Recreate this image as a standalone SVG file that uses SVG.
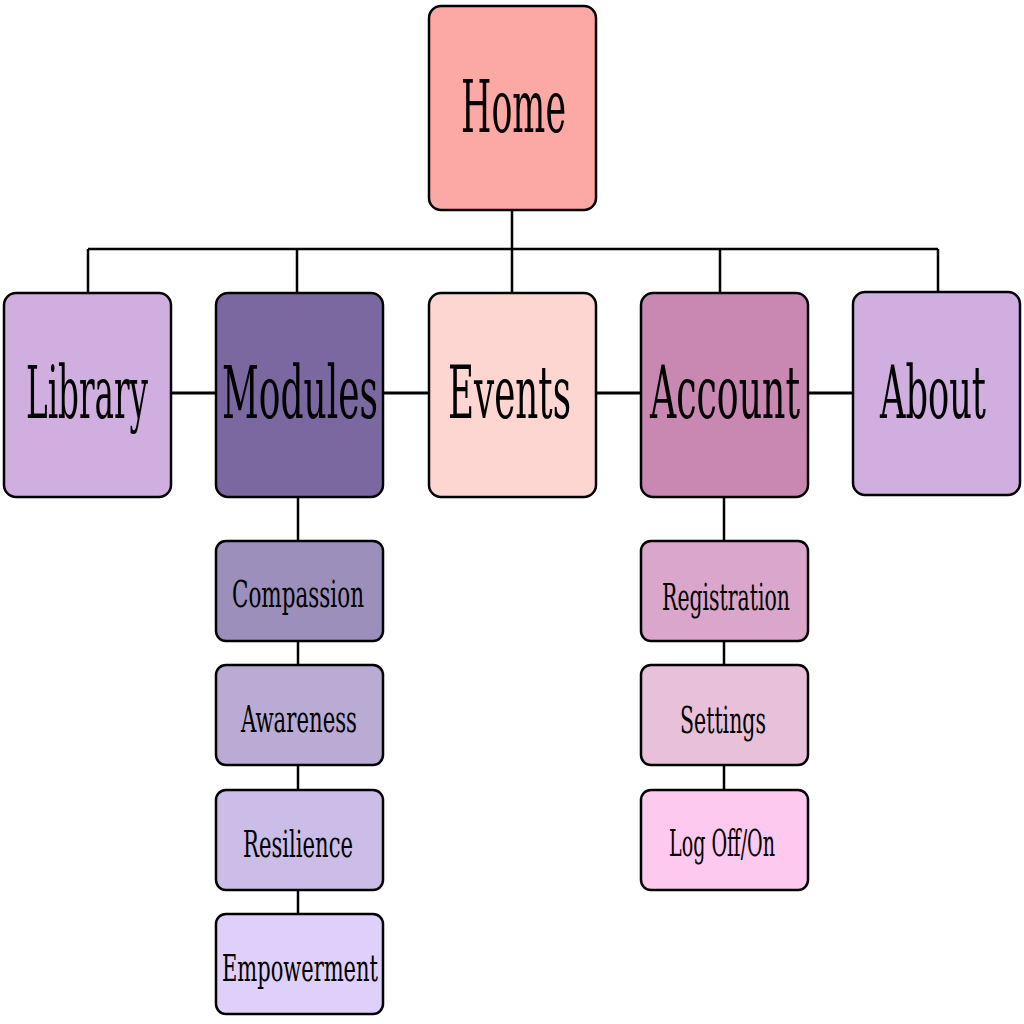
<svg xmlns="http://www.w3.org/2000/svg" width="1024" height="1024" viewBox="0 0 1024 1024">
<style>
.box{stroke:#000;stroke-width:2.5}
.t{font-family:"DejaVu Serif","Liberation Serif",serif;fill:#000}
.big{font-size:72px}
.sm{font-size:38px}
.c{stroke:#000;stroke-width:2.5;fill:none}
.h{stroke:#000;stroke-width:3.2;fill:none}
</style>
<rect width="1024" height="1024" fill="#fff"/>
<g id="connectors">
<path class="c" d="M512 210V249M88 249H938M88 249V293M297 249V293M512 249V293M720 249V293M938 249V292"/>
<path class="h" d="M171 393H216M383 393H429M596 393H641M808 393H853"/>
<path class="c" d="M298 497V541M298 641V665M298 765V790M298 890V914"/>
<path class="c" d="M724 497V541M724 641V665M724 765V790"/>
</g>
<g id="home"><rect class="box" x="429" y="6" width="167" height="204" rx="12" fill="#fca8a4"/><text class="t big" x="461" y="132" textLength="105" lengthAdjust="spacingAndGlyphs">Home</text></g>
<g id="library"><rect class="box" x="4" y="293" width="167" height="204" rx="12" fill="#d0aee0"/><text class="t big" x="26" y="418" textLength="122" lengthAdjust="spacingAndGlyphs">Library</text></g>
<g id="modules"><rect class="box" x="216" y="293" width="167" height="204" rx="12" fill="#7b68a0"/><text class="t big" x="222" y="418" textLength="156" lengthAdjust="spacingAndGlyphs">Modules</text></g>
<g id="events"><rect class="box" x="429" y="293" width="167" height="204" rx="12" fill="#fdd5d1"/><text class="t big" x="448" y="418" textLength="123" lengthAdjust="spacingAndGlyphs">Events</text></g>
<g id="account"><rect class="box" x="641" y="293" width="167" height="204" rx="12" fill="#c888b2"/><text class="t big" x="650" y="418" textLength="150" lengthAdjust="spacingAndGlyphs">Account</text></g>
<g id="about"><rect class="box" x="853" y="292" width="167" height="203" rx="12" fill="#d0aee0"/><text class="t big" x="880" y="418" textLength="106" lengthAdjust="spacingAndGlyphs">About</text></g>
<g id="compassion"><rect class="box" x="216" y="541" width="167" height="100" rx="10" fill="#9d8fbb"/><text class="t sm" x="232" y="607" textLength="132" lengthAdjust="spacingAndGlyphs">Compassion</text></g>
<g id="awareness"><rect class="box" x="216" y="665" width="167" height="100" rx="10" fill="#b9abd3"/><text class="t sm" x="241" y="732" textLength="116" lengthAdjust="spacingAndGlyphs">Awareness</text></g>
<g id="resilience"><rect class="box" x="216" y="790" width="167" height="100" rx="10" fill="#cbbde8"/><text class="t sm" x="243" y="857" textLength="110" lengthAdjust="spacingAndGlyphs">Resilience</text></g>
<g id="empowerment"><rect class="box" x="216" y="914" width="167" height="100" rx="10" fill="#ded0fa"/><text class="t sm" x="222" y="981" textLength="156" lengthAdjust="spacingAndGlyphs">Empowerment</text></g>
<g id="registration"><rect class="box" x="641" y="541" width="167" height="100" rx="10" fill="#dba6cc"/><text class="t sm" x="662" y="610" textLength="128" lengthAdjust="spacingAndGlyphs">Registration</text></g>
<g id="settings"><rect class="box" x="641" y="665" width="167" height="100" rx="10" fill="#e8c0da"/><text class="t sm" x="680" y="733" textLength="86" lengthAdjust="spacingAndGlyphs">Settings</text></g>
<g id="logoffon"><rect class="box" x="641" y="790" width="167" height="100" rx="10" fill="#fec9ee"/><text class="t sm" x="669" y="856" textLength="106" lengthAdjust="spacingAndGlyphs">Log Off/On</text></g>
</svg>
